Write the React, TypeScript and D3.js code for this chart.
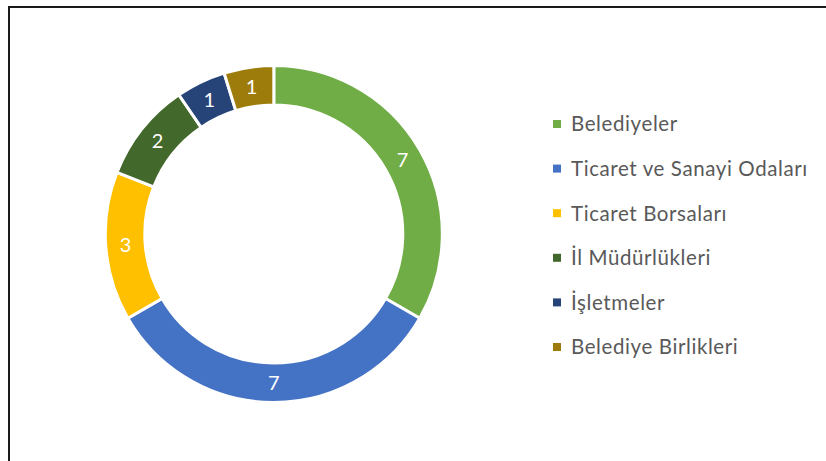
import React from 'react';
import * as d3 from 'd3';

const categories = ['Belediyeler', 'Ticaret ve Sanayi Odaları', 'Ticaret Borsaları', 'İl Müdürlükleri', 'İşletmeler', 'Belediye Birlikleri'];
const values = [7, 7, 3, 2, 1, 1];
const colors = ['#70AD47', '#4472C4', '#FFC000', '#43682B', '#264478', '#9E7C0C'];

const W = 826;
const H = 461;
const cx = 273.8;
const cy = 234;
const outerR = 168.5;
const innerR = 129;

const legendX = 553;
const legendY0 = 124;
const legendStep = 44.6;

export default function App() {
  const data = categories.map((c, i) => ({ name: c, value: values[i], color: colors[i] }));
  const pie = d3.pie<any>().value(d => d.value).sort(null);
  const arcs = pie(data);
  const arc = d3.arc<any>().innerRadius(innerR).outerRadius(outerR);
  const font = 'Lato, "Open Sans", sans-serif';

  return (
    <div style={{ position: 'absolute', left: 0, top: 0, width: W, height: H, background: '#fff' }}>
      <svg width={W} height={H} style={{ display: 'block' }}>
        <rect x={9} y={7} width={W + 10} height={H + 10} fill="#fff" stroke="#1a1a1a" strokeWidth={2} />
        <g transform={`translate(${cx},${cy})`}>
          {arcs.map((a, i) => (
            <path key={i} d={arc(a) as string} fill={a.data.color} stroke="#fff" strokeWidth={3} />
          ))}
          {arcs.map((a, i) => {
            const [x, y] = arc.centroid(a);
            return (
              <text key={'l' + i} x={x} y={y} dy="0.36em" textAnchor="middle" fill="#fff" fontSize={20} fontFamily={font}>
                {a.data.value}
              </text>
            );
          })}
        </g>
        <g>
          {data.map((d, i) => (
            <g key={i} transform={`translate(${legendX},${legendY0 + i * legendStep})`}>
              <rect x={0} y={-4} width={8} height={8} fill={d.color} />
              <text x={18} y={0} dy="0.36em" fill="#595959" fontSize={20.5} letterSpacing={0.6} fontFamily={font}>
                {d.name}
              </text>
            </g>
          ))}
        </g>
      </svg>
    </div>
  );
}
